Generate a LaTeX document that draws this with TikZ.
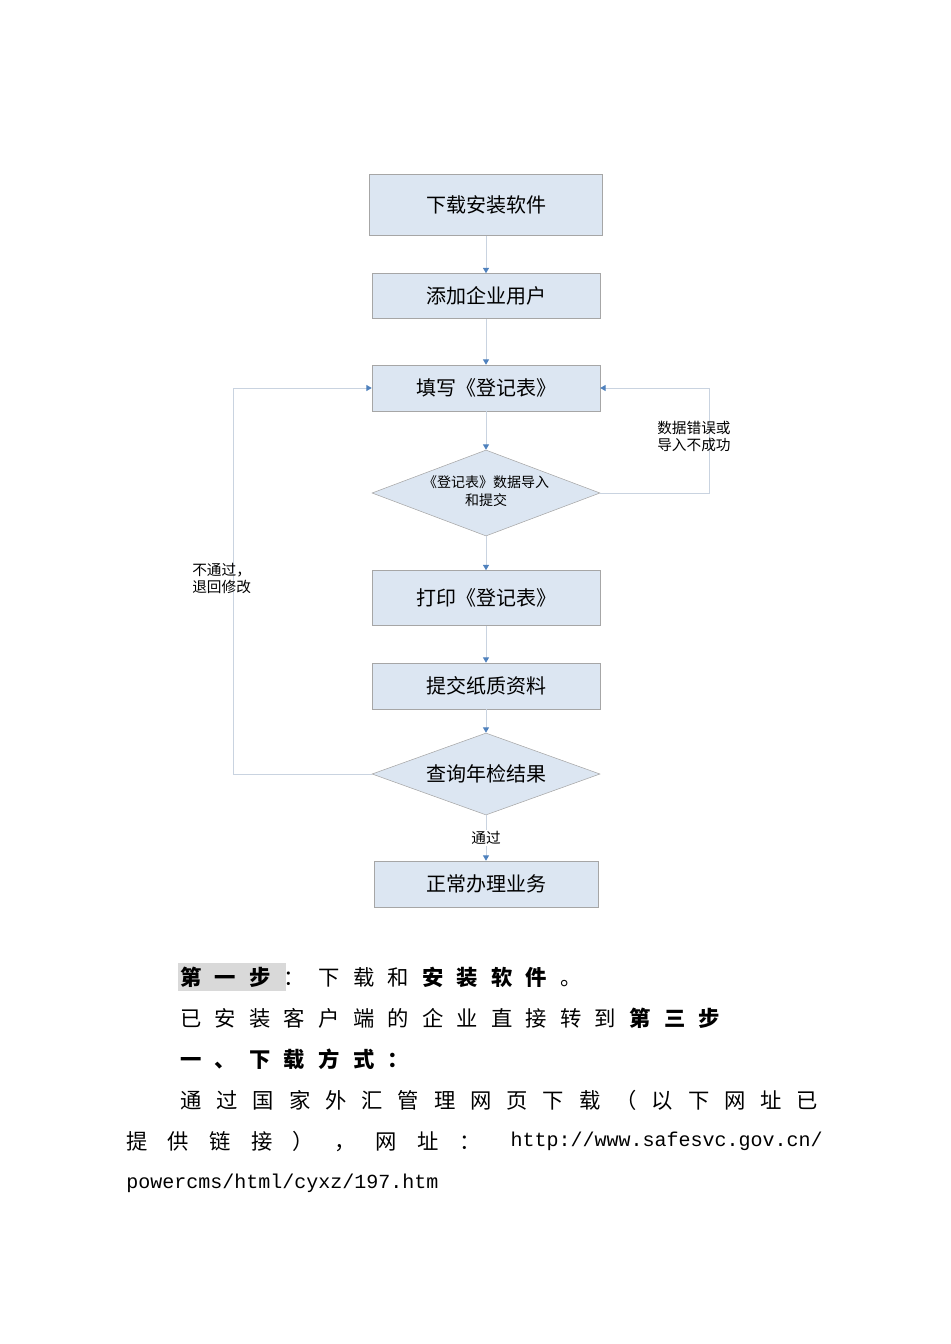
\documentclass[tikz,border=0pt]{standalone}
\usepackage{fontspec}
\setmainfont{Noto Sans CJK SC}
\newfontfamily\urlfont{Liberation Mono}
\usetikzlibrary{shapes.geometric,arrows.meta}
\definecolor{boxfill}{HTML}{DCE6F2}
\definecolor{boxline}{HTML}{A6A6A6}
\definecolor{conn}{HTML}{C9D3E0}
\definecolor{tip}{HTML}{4F81BD}
\tikzset{
 stepbox/.style={draw=boxline,fill=boxfill,minimum width=228*0.75pt,minimum height=46*0.75pt,font=\fontsize{15}{18}\selectfont,inner sep=0pt},
 decide/.style={diamond,aspect=2.65,draw=boxline,fill=boxfill,inner sep=0pt,align=center},
 conn/.style={draw=conn,line width=0.7pt,-{Triangle[length=4pt,width=4.5pt,fill=tip,color=tip]}},
 lbl/.style={font=\fontsize{11}{13}\selectfont,align=left,inner sep=0pt},
 para/.style={anchor=west,inner sep=0pt,font=\fontsize{16}{18}\selectfont\addfontfeature{LetterSpace=62}}
}
\begin{document}
\begin{tikzpicture}[x=0.75pt,y=-0.75pt]
\useasboundingbox (0,0) rectangle (950,1344);
\node[stepbox,minimum width=233*0.75pt,minimum height=61*0.75pt] (a) at (486,205) {下载安装软件};
\node[stepbox,minimum height=45*0.75pt] (b) at (486,296) {添加企业用户};
\node[stepbox] (c) at (486,388) {填写《登记表》};
\node[decide,minimum width=228*0.75pt,minimum height=86*0.75pt] (d) at (486,493) {};
\node[font=\fontsize{10.5}{13}\selectfont,align=center] at (486,491) {《登记表》数据导入\\和提交};
\node[stepbox,minimum height=55*0.75pt] (e) at (486,598) {打印《登记表》};
\node[stepbox] (f) at (486,686) {提交纸质资料};
\node[decide,minimum width=228*0.75pt,minimum height=82*0.75pt,font=\fontsize{15}{18}\selectfont] (g) at (486,774) {查询年检结果};
\node[stepbox,minimum width=224*0.75pt] (h) at (486,884) {正常办理业务};
\draw[conn] (a) -- (b);
\draw[conn] (b) -- (c);
\draw[conn] (c) -- (d);
\draw[conn] (d) -- (e);
\draw[conn] (e) -- (f);
\draw[conn] (f) -- (g);
\draw[conn] (g) -- node[lbl,fill=white,inner sep=1pt,pos=0.5] {通过} (h);
\coordinate (lc) at (233,774);
\coordinate (lt) at (233,388);
\coordinate (rc) at (709,493);
\coordinate (rt) at (709,388);
\draw[conn] (g.west) -- (lc) -- (lt) -- (c.west);
\draw[conn] (d.east) -- (rc) -- (rt) -- (c.east);
\node[lbl,anchor=north west] (l1) at (192,563) {不通过，\\退回修改};
\node[lbl,anchor=north west] (l2) at (657,421) {数据错误或\\导入不成功};
% text
\fill[gray!30] (178,963) rectangle (286,991);
\node[para] (p1) at (180,977) {\textbf{第一步}：下载和\textbf{安装软件}。};
\node[para] (p2) at (180,1018) {已安装客户端的企业直接转到\textbf{第三步}};
\node[para] (p3) at (180,1059) {\textbf{一、下载方式：}};
\node[para,font=\fontsize{16}{18}\selectfont\addfontfeature{LetterSpace=70}] (p4) at (180,1100) {通过国家外汇管理网页下载（以下网址已};
\node[para,font=\fontsize{16}{18}\selectfont\addfontfeature{LetterSpace=95}] (p5) at (126,1141) {提供链接），网址：};
\node[anchor=east,inner sep=0pt,font=\urlfont\fontsize{15}{18}\selectfont] (u1) at (823,1141) {http://www.safesvc.gov.cn/};
\node[anchor=west,inner sep=0pt,font=\urlfont\fontsize{15}{18}\selectfont] (u2) at (126,1183) {powercms/html/cyxz/197.htm};
\end{tikzpicture}
\end{document}
